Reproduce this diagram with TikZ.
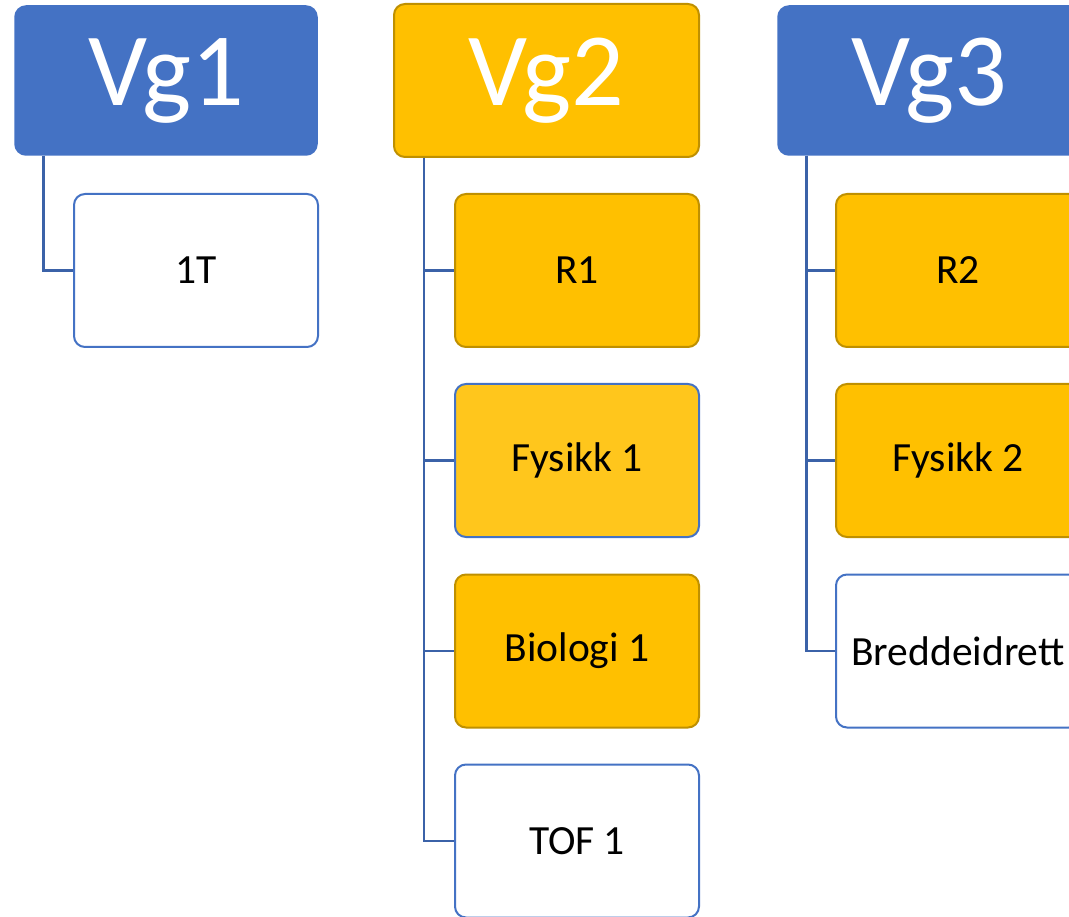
\documentclass[tikz,border=0pt]{standalone}
\usepackage{fontspec}
\setmainfont{Carlito}
\definecolor{hblue}{HTML}{4472C4}
\definecolor{gold}{HTML}{FFC000}
\definecolor{goldline}{HTML}{BF9000}
\definecolor{goldlight}{HTML}{FFC61C}
\definecolor{conn}{HTML}{3B62A8}
\tikzset{
  head/.style={rectangle, rounded corners=11pt, inner sep=0pt, text=white,
    font=\fontsize{104}{114}\selectfont},
  bluehead/.style={head, fill=hblue, draw=hblue, line width=1.5pt, minimum width=302pt, minimum height=149pt},
  goldhead/.style={head, fill=gold, draw=goldline, line width=2pt, minimum width=305pt, minimum height=153pt},
  child/.style={rectangle, rounded corners=11pt, inner sep=0pt, minimum width=244pt,
    minimum height=153pt, line width=2pt, font=\fontsize{41.5}{50}\selectfont},
  goldchild/.style={child, fill=gold, draw=goldline},
  bluechild/.style={child, fill=goldlight, draw=hblue},
  whitechild/.style={child, fill=white, draw=hblue},
  link/.style={draw=conn, line width=2.5pt}
}
\begin{document}
\begin{tikzpicture}[x=1pt,y=-1pt]
\useasboundingbox (0,0) rectangle (1069,917);
\clip (0,0) rectangle (1069,917);
% headers
\node[bluehead] (vg1) at (166,80.5) {\raisebox{-3pt}{Vg1}};
\node[goldhead] (vg2) at (546.5,80.5) {\raisebox{-3pt}{Vg2}};
\node[bluehead] (vg3) at (929,80.5) {\raisebox{-3pt}{Vg3}};
% Vg1 children
\node[whitechild] (t1) at (196,270.5) {1T};
% Vg2 children
\node[goldchild] (r1) at (577,270.5) {R1};
\node[bluechild] (fy1) at (577,460.5) {Fysikk 1};
\node[goldchild] (bi1) at (577,651) {Biologi 1};
\node[whitechild] (tof) at (577,841) {TOF 1};
% Vg3 children
\node[goldchild] (r2) at (958,270.5) {R2};
\node[goldchild] (fy2) at (958,460.5) {Fysikk 2};
\node[whitechild] (bre) at (958,651) {Breddeidrett};
% connectors
\draw[link] ([xshift=29pt]vg1.south west) |- (t1.west);
\draw[link] ([xshift=31pt]vg2.south west) |- (r1.west);
\draw[link] ([xshift=31pt]vg2.south west) |- (fy1.west);
\draw[link] ([xshift=31pt]vg2.south west) |- (bi1.west);
\draw[link] ([xshift=31pt]vg2.south west) |- (tof.west);
\draw[link] ([xshift=29pt]vg3.south west) |- (r2.west);
\draw[link] ([xshift=29pt]vg3.south west) |- (fy2.west);
\draw[link] ([xshift=29pt]vg3.south west) |- (bre.west);
\end{tikzpicture}
\end{document}
